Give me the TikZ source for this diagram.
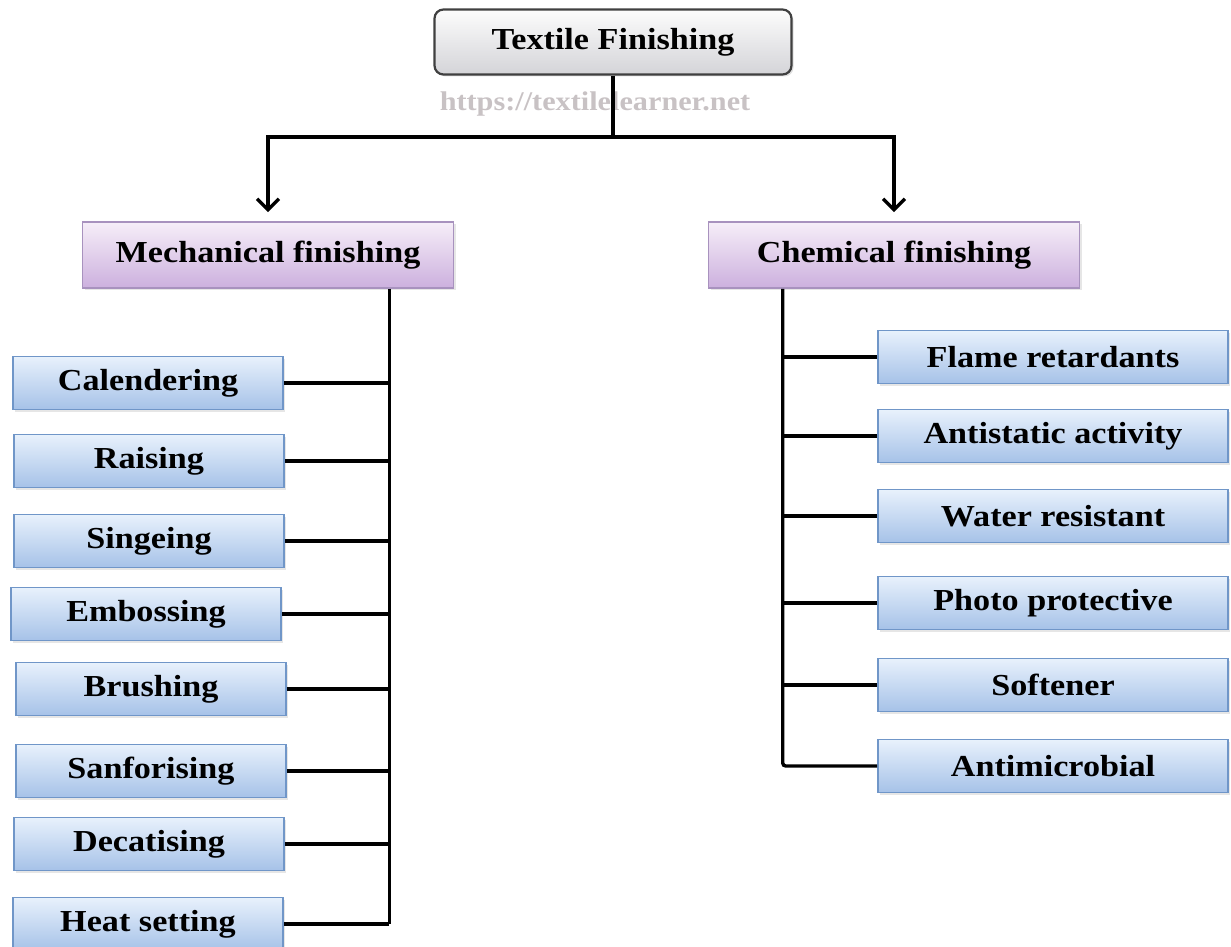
\documentclass[tikz,border=0pt]{standalone}
\usepackage{fontspec}
\setmainfont[FakeStretch=1.12]{Liberation Serif}
\usetikzlibrary{arrows.meta,positioning,shadows}
\definecolor{tfGrayTop}{RGB}{252,252,252}
\definecolor{tfGrayBot}{RGB}{212,212,216}
\definecolor{tfPurpTop}{RGB}{246,238,248}
\definecolor{tfPurpBot}{RGB}{204,176,222}
\definecolor{tfPurpLine}{RGB}{168,146,190}
\definecolor{tfBlueTop}{RGB}{232,241,252}
\definecolor{tfBlueBot}{RGB}{166,194,232}
\definecolor{tfBlueLine}{RGB}{112,150,200}
\definecolor{tfMark}{RGB}{200,194,196}

\begin{document}
\begin{tikzpicture}[x=1pt, y=-1pt,
    boxfont/.style={font=\fontsize{30.5}{35}\selectfont\bfseries},
    rootbox/.style={boxfont, draw=black!75, line width=2.2pt, rounded corners=9pt, top color=tfGrayTop, bottom color=tfGrayBot, minimum width=357pt, minimum height=65pt, drop shadow={opacity=0.25, shadow xshift=2pt, shadow yshift=-2pt}},
    groupbox/.style={boxfont, draw=tfPurpLine, line width=1.6pt, top color=tfPurpTop, bottom color=tfPurpBot, minimum width=371pt, minimum height=66pt, drop shadow={opacity=0.2, shadow xshift=2pt, shadow yshift=-2pt}},
    leafbox/.style={boxfont, draw=tfBlueLine, line width=1.6pt, top color=tfBlueTop, bottom color=tfBlueBot, minimum height=53pt, drop shadow={opacity=0.2, shadow xshift=2pt, shadow yshift=-2pt}},
    leftbox/.style={leafbox, minimum width=270pt},
    rightbox/.style={leafbox, minimum width=350pt},
    link/.style={line width=3.4pt, black},
    arrow/.style={link, -{Straight Barb[length=11pt, width=22pt, line width=3.4pt]}, shorten >=9pt}
  ]
  \useasboundingbox (0,0) rectangle (1231,947);

  % root and watermark
  \node[rootbox] (root) at (613,42) {Textile Finishing};
  \node[font=\fontsize{27}{31}\selectfont\bfseries, text=tfMark] (mark) at (595,104) {https://textilelearner.net};

  % two groups
  \node[groupbox] (mech) at (268,255) {Mechanical finishing};
  \node[groupbox] (chem) at (894,255) {Chemical finishing};

  % mechanical finishing
  \node[leftbox] (cal) at (148,383) {Calendering};
  \node[leftbox] (rai) at (149,461) {Raising};
  \node[leftbox] (sin) at (149,541) {Singeing};
  \node[leftbox] (emb) at (146,614) {Embossing};
  \node[leftbox] (bru) at (151,689) {Brushing};
  \node[leftbox] (san) at (151,771) {Sanforising};
  \node[leftbox] (dec) at (149,844) {Decatising};
  \node[leftbox] (hea) at (148,924) {Heat setting};

  % chemical finishing
  \node[rightbox] (fla) at (1053,357) {Flame retardants};
  \node[rightbox] (ant) at (1053,436) {Antistatic activity};
  \node[rightbox] (wat) at (1053,516) {Water resistant};
  \node[rightbox] (pho) at (1053,603) {Photo protective};
  \node[rightbox] (sof) at (1053,685) {Softener};
  \node[rightbox] (mic) at (1053,766) {Antimicrobial};

  % connectors
  \coordinate (jn) at (root.south |- 0,137);
  \draw[link] (root.south) -- (jn);
  \draw[arrow] (jn) -| (mech.north);
  \draw[arrow] (jn) -| (chem.north);

  \coordinate (mv) at ([xshift=-65pt]mech.south east);
  \draw[link] (mv) -- (mv |- hea.east);
  \foreach \n in {cal,rai,sin,emb,bru,san,dec,hea}
    \draw[link] (\n.east) -- (\n.east -| mv);

  \coordinate (cv) at ([xshift=75pt]chem.south west);
  \draw[link, rounded corners=3pt] (cv) |- (mic.west);
  \foreach \n in {fla,ant,wat,pho,sof}
    \draw[link] (\n.west) -- (\n.west -| cv);
\end{tikzpicture}
\end{document}
